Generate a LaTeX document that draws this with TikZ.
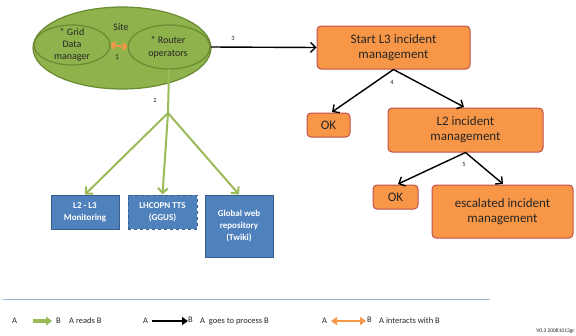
\documentclass[tikz,border=0pt]{standalone}
\usepackage{fontspec}
\setmainfont{Carlito}
\usetikzlibrary{arrows.meta,shapes.geometric}
\definecolor{gfill}{HTML}{8FB24C}
\definecolor{gline}{HTML}{6A8A33}
\definecolor{garrow}{HTML}{9BBB59}
\definecolor{ofill}{HTML}{F79646}
\definecolor{oline}{HTML}{C0504D}
\definecolor{bfill}{HTML}{4F81BD}
\definecolor{bline}{HTML}{385D8A}
\definecolor{txt}{HTML}{262626}
\tikzset{
  ell/.style={ellipse,draw=gline,line width=1.2pt,fill=gfill,inner sep=0pt},
  obox/.style={draw=oline,line width=1pt,fill=ofill,rounded corners=4pt,align=center,text=txt,font=\fontsize{13}{15}\selectfont,inner sep=0pt},
  bbox/.style={draw=bline,line width=1pt,fill=bfill,align=center,text=white,font=\bfseries\fontsize{9}{12}\selectfont,inner sep=0pt},
  blk/.style={draw=black,line width=1.4pt,-{Straight Barb[length=5pt,width=10pt,line width=1.4pt]}},
  grn/.style={draw=garrow,line width=2pt,-{Straight Barb[length=5pt,width=10pt,line width=2pt]}},
  lbl/.style={font=\fontsize{6.5}{7}\selectfont,text=txt,inner sep=0pt},
  leg/.style={font=\fontsize{8.5}{10}\selectfont,text=txt,inner sep=0pt,anchor=west},
}
\begin{document}
\begin{tikzpicture}[x=1pt,y=-1pt]
\useasboundingbox (0,0) rectangle (576,335);
% site ellipse
\node[ell,minimum width=178pt,minimum height=82pt] (site) at (122,48) {};
\node[ell,minimum width=76pt,minimum height=40pt] (gdm) at (72,45) {};
\node[ell,minimum width=82pt,minimum height=44pt] (rop) at (169,47) {};
\node[align=center,text=txt,font=\fontsize{10}{12}\selectfont] (gdmt) at (72,45) {* Grid\\Data\\manager};
\node[align=center,text=txt,font=\fontsize{10}{13}\selectfont] (ropt) at (168,47) {* Router\\operators};
\node[text=txt,font=\fontsize{10}{11}\selectfont,inner sep=0pt] (sitet) at (121,27) {Site};
\draw[ofill,line width=2pt,{Straight Barb[length=3pt,width=7pt,line width=2pt]}-{Straight Barb[length=3pt,width=7pt,line width=2pt]}] (gdm.east) -- (rop.west);
\node[lbl,font=\fontsize{7.5}{8}\selectfont] (l1) at (117,57) {1};
% L3 chain
\node[obox,minimum width=153pt,minimum height=43pt] (l3) at (393.5,47.5) {Start L3 incident\\management};
\node[obox,minimum width=43pt,minimum height=24pt] (ok1) at (328.5,125) {OK};
\node[obox,minimum width=155pt,minimum height=44pt] (l2) at (465.5,130) {L2 incident\\management};
\node[obox,minimum width=45pt,minimum height=24pt] (ok2) at (395.5,197) {OK};
\node[obox,minimum width=141pt,minimum height=53pt] (esc) at (502.5,211.5) {escalated incident\\management};
\draw[blk] (rop.east) -- (l3.west);
\node[lbl] (l3n) at (233,38) {3};
\draw[blk] (l3.south) -- (332,112);
\draw[blk] (l3.south) -- (464,107);
\node[lbl] (l4n) at (392,82) {4};
\draw[blk] (l2.south) -- (398,184);
\draw[blk] (l2.south) -- (503,184);
\node[lbl] (l5n) at (464,164) {5};
% blue boxes
\node[bbox,minimum width=68pt,minimum height=34pt] (mon) at (85,212) {L2 - L3\\Monitoring};
\node[bbox,dashed,minimum width=69pt,minimum height=34pt] (tts) at (162.5,212) {LHCOPN TTS\\(GGUS)};
\node[bbox,minimum width=68pt,minimum height=62pt] (web) at (239,226) {Global web\\repository\\(Twiki)};
\coordinate (br) at (168,113);
\draw[garrow,line width=2pt] (rop.south) -- (br);
\draw[grn] (br) -- (mon.north);
\draw[grn] (br) -- (tts.north);
\draw[grn] (br) -- (web.north);
\node[lbl] (l2n) at (155,100) {2};
% legend
\draw[color=bfill!60,line width=0.6pt] (3,299) -- (490,299);
\node[leg] (a1) at (12,321) {A};
\coordinate (g1) at (33,321);
\coordinate (g2) at (52,321);
\draw[garrow,line width=3.5pt,-{Triangle[length=6pt,width=9pt]}] (g1) -- (g2);
\node[leg] (b1) at (56,321) {B};
\node[leg] (t1) at (69,321) {A reads B};
\node[leg] (a2) at (143,321) {A};
\coordinate (k1) at (152,321);
\coordinate (k2) at (188,321);
\draw[black,line width=1.5pt,-{Triangle[length=6pt,width=8pt]}] (k1) -- (k2);
\node[leg] (b2) at (188,320) {B};
\node[leg] (t2) at (200,321) {A\ \ goes to process B};
\node[leg] (a3) at (322,321) {A};
\coordinate (o1) at (331,321);
\coordinate (o2) at (366,321);
\draw[ofill,line width=2pt,{Triangle[length=6pt,width=8pt]}-{Triangle[length=6pt,width=8pt]}] (o1) -- (o2);
\node[leg] (b3) at (367,320) {B};
\node[leg] (t3) at (379,321) {A interacts with B};
\node[font=\fontsize{5.5}{6}\selectfont,text=txt,inner sep=0pt,anchor=east] (ver) at (575,331) {V0.3 20081013gc};
\end{tikzpicture}
\end{document}
